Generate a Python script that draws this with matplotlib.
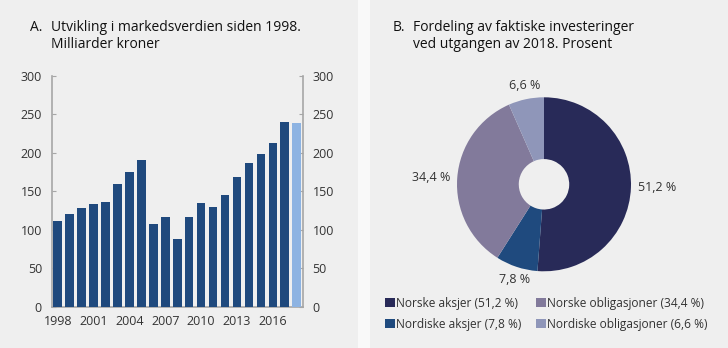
import matplotlib.pyplot as plt
from matplotlib.patches import Rectangle

plt.rcParams["font.family"] = ["Open Sans", "DejaVu Sans"]

YEARS = list(range(1998, 2019))
VALUES = [111, 121, 128, 133, 136, 159, 175, 191, 107, 117, 88, 117,
          135, 130, 145, 168, 186, 198, 212, 240, 239]
XTICKS = [1998, 2001, 2004, 2007, 2010, 2013, 2016]
YTICKS = [0, 50, 100, 150, 200, 250, 300]

PIE_LABELS = ["Norske aksjer", "Nordiske aksjer", "Norske obligasjoner", "Nordiske obligasjoner"]
PIE_SHARES = [51.2, 7.8, 34.4, 6.6]
PIE_COLORS = ["#282a58", "#1f4a7e", "#827a9b", "#8f96b9"]

BAR_COLOR = "#1f497d"
LAST_COLOR = "#8db3e2"
TEXT = "#333333"
TITLE = "#111111"
PANEL_BG = "#efefef"
SPINE = "#a6a6a6"

W, H = 728, 348


def fmt(v):
    return f"{v:.1f}".replace(".", ",") + " %"


def main():
    fig = plt.figure(figsize=(W / 100, H / 100), dpi=100)
    fig.patch.set_facecolor("#f9f9f9")
    fig.patches.append(Rectangle((0, 0), 358 / W, 1, transform=fig.transFigure,
                                 facecolor=PANEL_BG, edgecolor="none", zorder=-10))
    fig.patches.append(Rectangle((370 / W, 0), 1 - 370 / W, 1, transform=fig.transFigure,
                                 facecolor=PANEL_BG, edgecolor="none", zorder=-10))

    # panel A: bars
    ax = fig.add_axes([51.7 / W, 1 - 306.7 / H, (302.7 - 51.7) / W, (306.7 - 75.7) / H])
    ax.set_facecolor("none")
    colors = [BAR_COLOR] * (len(YEARS) - 1) + [LAST_COLOR]
    ax.bar(YEARS, VALUES, width=0.72, color=colors, zorder=3)
    ax.set_xlim(1997.5, 2018.5)
    ax.set_ylim(0, 300)
    ax.set_yticks(YTICKS)
    ax.set_xticks(XTICKS)
    ax.tick_params(axis="y", direction="in", length=3, color=SPINE, labelsize=9,
                   labelcolor=TEXT, pad=7, left=True, right=True, labelright=True)
    ax.tick_params(axis="x", length=0, labelsize=9, labelcolor=TEXT, pad=6)
    for side in ["left", "right", "bottom"]:
        ax.spines[side].set_color(SPINE)
        ax.spines[side].set_linewidth(1.2)
    ax.spines["top"].set_visible(False)

    fig.text(30 / W, 1 - 20 / H, "A.", fontsize=10, color=TITLE, va="top")
    fig.text(51 / W, 1 - 20 / H, "Utvikling i markedsverdien siden 1998.\nMilliarder kroner",
             fontsize=10, color=TITLE, va="top", linespacing=1.15)

    # panel B: donut
    r = 87
    pax = fig.add_axes([(544 - r) / W, (H - 184.3 - r) / H, 2 * r / W, 2 * r / H])
    wedges, texts = pax.pie(PIE_SHARES, colors=PIE_COLORS, startangle=90, counterclock=False,
                            labels=[fmt(v) for v in PIE_SHARES], labeldistance=1.08,
                            wedgeprops=dict(width=0.71, edgecolor="none"),
                            textprops=dict(fontsize=9, color=TEXT))
    for t in texts:
        x, y = t.get_position()
        if abs(x) < 0.5:
            t.set_ha("center")
            t.set_va("bottom" if y > 0 else "top")
        else:
            t.set_va("center")
    pax.set_xlim(-1, 1)
    pax.set_ylim(-1, 1)

    fig.text(393 / W, 1 - 20 / H, "B.", fontsize=10, color=TITLE, va="top")
    fig.text(413 / W, 1 - 20 / H, "Fordeling av faktiske investeringer\nved utgangen av 2018. Prosent",
             fontsize=10, color=TITLE, va="top", linespacing=1.15)

    fig.legend(wedges, [f"{lab} ({fmt(v)})" for lab, v in zip(PIE_LABELS, PIE_SHARES)],
               ncol=2, loc="upper left", bbox_to_anchor=(385 / W, 1 - 297 / H),
               frameon=False, fontsize=8.6, handlelength=0.8, handleheight=0.8,
               handletextpad=0.1, columnspacing=1.25, labelspacing=0.65,
               borderpad=0, borderaxespad=0, labelcolor=TEXT)

    fig.savefig("out.png", dpi=100)


if __name__ == "__main__":
    main()
